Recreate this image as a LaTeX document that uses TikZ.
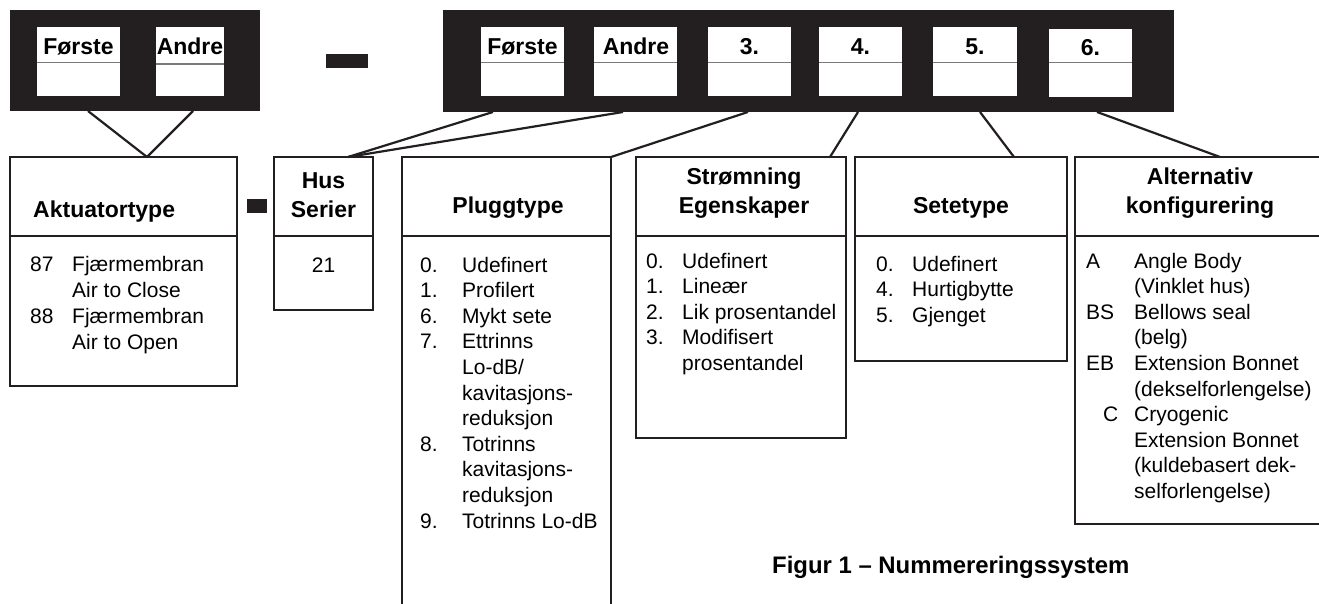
\documentclass[tikz,border=0pt]{standalone}
\usepackage{fontspec}
\setmainfont{Liberation Sans}
\definecolor{ink}{HTML}{231F20}
\definecolor{rule}{HTML}{7A7A7A}
\newcommand\lblfont{\fontsize{23}{28}\selectfont\bfseries}
\newcommand\capfont{\fontsize{23.9}{28}\selectfont\bfseries}
\newcommand\hdrfont{\fontsize{23}{28.5}\selectfont\bfseries}
\newcommand\bdyfont{\fontsize{21}{25.6}\selectfont}
\begin{document}
\begin{tikzpicture}[x=1pt,y=-1pt,
  blk/.style={fill=ink, draw=none, inner sep=0pt, outer sep=0pt, anchor=north west},
  cellbox/.style={fill=white, draw=none, inner sep=0pt, outer sep=0pt, anchor=north west, minimum width=83pt, minimum height=69pt},
  lowbox/.style={draw=ink, line width=1.3pt, inner sep=0pt, outer sep=0pt, anchor=north west},
  openbox/.style={draw=none, inner sep=0pt, outer sep=0pt, anchor=north west},
  frame/.style={draw=ink, line width=1.3pt},
  divider/.style={draw=rule, line width=1.1pt},
  conn/.style={draw=ink, line width=2.2pt},
  lbl/.style={font=\lblfont, anchor=base, inner sep=0pt},
  hdr/.style={font=\hdrfont, anchor=base, inner sep=0pt},
  bdy/.style={font=\bdyfont, anchor=base west, inner sep=0pt},
  figcaption/.style={font=\capfont, anchor=base west, inner sep=0pt}
]
\useasboundingbox (0,0) rectangle (1319,604);

% ---------- top black code boxes ----------
\node[blk, minimum width=250pt, minimum height=101pt] (lb) at (10,10) {};
\node[blk, minimum width=731pt, minimum height=102pt] (rb) at (443,10) {};

% cells of the left box
\node[cellbox] (l1) at (37,27) {};
\node[cellbox, minimum width=68pt] (l2) at (156,27) {};
% cells of the right box
\node[cellbox] (r1) at (481,27) {};
\node[cellbox] (r2) at (594,27) {};
\node[cellbox] (r3) at (708,27) {};
\node[cellbox] (r4) at (819,27) {};
\node[cellbox, minimum width=84pt] (r5) at (933,27) {};
\node[cellbox, minimum height=68pt] (r6) at (1049,29) {};

\foreach \c in {l1,r1,r2,r3,r4,r5}{
  \draw[divider] ([yshift=-35.5pt]\c.north west) -- ([yshift=-35.5pt]\c.north east);
}
\draw[divider] ([yshift=-37pt]l2.north west) -- ([yshift=-37pt]l2.north east);
\draw[divider] ([yshift=-33.5pt]r6.north west) -- ([yshift=-33.5pt]r6.north east);

\node[lbl] (t1) at (78.5,55) {Første};
\node[lbl] (t2) at (190,55) {Andre};
\node[lbl] (t3) at (522.5,55) {Første};
\node[lbl] (t4) at (636,55) {Andre};
\node[lbl] (t5) at (749.5,55) {3.};
\node[lbl] (t6) at (860.5,55) {4.};
\node[lbl] (t7) at (975,55) {5.};
\node[lbl] (t8) at (1090.5,56) {6.};

% dashes
\node[blk, minimum width=42pt, minimum height=14pt] (dash1) at (326,54) {};
\node[blk, minimum width=20pt, minimum height=14pt] (dash2) at (247,199) {};

% ---------- lower boxes ----------
\node[lowbox, minimum width=227pt, minimum height=229pt] (akt) at (10,157) {};
\node[lowbox, minimum width=99pt, minimum height=153pt] (hus) at (274,157) {};
\node[openbox, minimum width=209pt, minimum height=447pt] (plug) at (402,157) {};
\node[lowbox, minimum width=210pt, minimum height=281pt] (strom) at (636,157) {};
\node[lowbox, minimum width=212pt, minimum height=204pt] (sete) at (855,157) {};
\node[openbox, minimum width=244pt, minimum height=367pt] (alt) at (1075,157) {};

\draw[frame] (plug.south west) -- (plug.north west) -- (plug.north east) -- (plug.south east);
\draw[frame] (alt.north east) -- (alt.north west) -- (alt.south west) -- (alt.south east);

\foreach \b in {akt,hus,plug,strom,sete,alt}{
  \draw[frame] ([yshift=-79pt]\b.north west) -- ([yshift=-79pt]\b.north east);
}

% headers
\node[hdr, anchor=base west] (hakt) at (33,218) {Aktuatortype};
\node[hdr] (hhus) at (323.5,189) {\begin{tabular}[t]{@{}c@{}}Hus\\Serier\end{tabular}};
\node[hdr] (hplug) at (508,214) {Pluggtype};
\node[hdr] (hstrom) at (744,185) {\begin{tabular}[t]{@{}c@{}}Strømning\\Egenskaper\end{tabular}};
\node[hdr] (hsete) at (961,214) {Setetype};
\node[hdr] (halt) at (1200,185) {\begin{tabular}[t]{@{}c@{}}Alternativ\\konfigurering\end{tabular}};

% bodies
\node[bdy] (bakt) at (30,271) {\fontsize{21}{26}\selectfont\begin{tabular}[t]{@{}p{42pt}@{}l@{}}
87 & Fjærmembran\\
   & Air to Close\\
88 & Fjærmembran\\
   & Air to Open
\end{tabular}};
\node[bdy, anchor=base] (bhus) at (323.5,272) {21};
\node[bdy] (bplug) at (420,272) {\begin{tabular}[t]{@{}p{42pt}@{}l@{}}
0. & Udefinert\\
1. & Profilert\\
6. & Mykt sete\\
7. & Ettrinns\\
   & Lo-dB/\\
   & kavitasjons-\\
   & reduksjon\\
8. & Totrinns\\
   & kavitasjons-\\
   & reduksjon\\
9. & Totrinns Lo-dB
\end{tabular}};
\node[bdy] (bstrom) at (646,268) {\begin{tabular}[t]{@{}p{36pt}@{}l@{}}
0. & Udefinert\\
1. & Lineær\\
2. & Lik prosentandel\\
3. & Modifisert\\
   & prosentandel
\end{tabular}};
\node[bdy] (bsete) at (876,271) {\begin{tabular}[t]{@{}p{36pt}@{}l@{}}
0. & Udefinert\\
4. & Hurtigbytte\\
5. & Gjenget
\end{tabular}};
\node[bdy] (balt) at (1086,268) {\begin{tabular}[t]{@{}p{48pt}@{}l@{}}
A  & Angle Body\\
   & (Vinklet hus)\\
BS & Bellows seal\\
   & (belg)\\
EB & Extension Bonnet\\
   & (dekselforlengelse)\\
\hspace*{17pt}C & Cryogenic\\
   & Extension Bonnet\\
   & (kuldebasert dek-\\
   & selforlengelse)
\end{tabular}};

% ---------- connectors ----------
\draw[conn] ([xshift=78pt]lb.south west) -- ([xshift=137pt]akt.north west);
\draw[conn] ([xshift=183pt]lb.south west) -- ([xshift=137pt]akt.north west);
\draw[conn] ([xshift=50pt]rb.south west) -- ([xshift=74pt]hus.north west);
\draw[conn] ([xshift=180pt]rb.south west) -- ([xshift=74pt]hus.north west);
\draw[conn] ([xshift=305pt]rb.south west) -- (plug.north east);
\draw[conn] ([xshift=415pt]rb.south west) -- ([xshift=194pt]strom.north west);
\draw[conn] ([xshift=537pt]rb.south west) -- ([xshift=159pt]sete.north west);
\draw[conn] ([xshift=654pt]rb.south west) -- ([xshift=145pt]alt.north west);

% caption
\node[figcaption] (caption) at (772,573) {Figur 1 – Nummereringssystem};
\end{tikzpicture}
\end{document}
